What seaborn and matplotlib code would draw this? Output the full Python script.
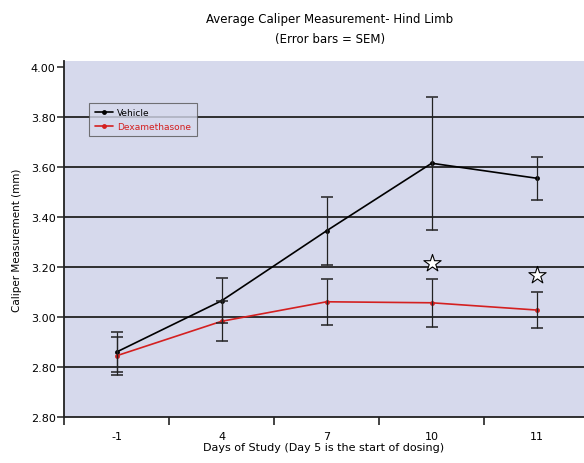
import numpy as np
import pandas as pd
import seaborn as sns
import matplotlib.pyplot as plt

sns.set_style("white")
plt.rcParams['font.family'] = ['DejaVu Sans']
plt.rcParams['text.color'] = 'black'
plt.rcParams['axes.labelcolor'] = 'black'
plt.rcParams['xtick.color'] = 'black'
plt.rcParams['ytick.color'] = 'black'

# data
days = ['-1', '4', '7', '10', '11']
vehicle = [2.86, 3.065, 3.345, 3.615, 3.555]
vehicle_sem = [0.08, 0.09, 0.137, 0.265, 0.085]
dexa = [2.845, 2.983, 3.061, 3.057, 3.028]
dexa_sem = [0.077, 0.08, 0.091, 0.097, 0.073]
star_days = ['10', '11']
star_vals = [3.215, 3.17]
y_ticks = [2.6, 2.8, 3.0, 3.2, 3.4, 3.6, 3.8, 4.0]
y_labels = ['2.80', '2.80', '3.00', '3.20', '3.40', '3.60', '3.80', '4.00']

pos = np.arange(len(days))
df = pd.DataFrame({
    'pos': np.concatenate([pos, pos]),
    'value': vehicle + dexa,
    'group': ['Vehicle'] * len(days) + ['Dexamethasone'] * len(days),
})
palette = {'Vehicle': 'black', 'Dexamethasone': '#d42020'}

fig = plt.figure(figsize=(5.84, 4.64), dpi=100)
ax = fig.add_axes([0.1096, 0.099, 0.8904, 0.768])
ax.set_facecolor('#d6d9ec')

# grid lines
for yv in y_ticks[1:-1]:
    ax.axhline(yv, color='#222222', lw=1.3, zorder=1)

sns.lineplot(data=df, x='pos', y='value', hue='group', palette=palette,
             marker='o', markersize=3.5, markeredgewidth=0, lw=1.2,
             ax=ax, zorder=3)

ax.errorbar(pos, vehicle, yerr=vehicle_sem, fmt='none', ecolor='#222222',
            elinewidth=0.9, capsize=4, capthick=1.1, zorder=4)
ax.errorbar(pos, dexa, yerr=dexa_sem, fmt='none', ecolor='#222222',
            elinewidth=0.9, capsize=4, capthick=1.1, zorder=4)

star_pos = [days.index(d) for d in star_days]
ax.scatter(star_pos, star_vals, marker='*', s=170, facecolor='white',
           edgecolor='black', linewidth=0.8, zorder=5)

ax.set_xlim(-0.5, 4.45)
ax.set_ylim(2.6, 4.025)
ax.set_yticks(y_ticks)
ax.set_yticklabels(y_labels, fontsize=8)
ax.set_xticks(np.arange(-0.5, 4.5, 1.0))
ax.set_xticklabels([])
ax.set_xticks(pos, minor=True)
ax.set_xticklabels(days, minor=True, fontsize=8)
ax.tick_params(axis='x', which='major', direction='out', length=6, width=1.2,
               color='#222222', bottom=True)
ax.tick_params(axis='x', which='minor', length=0, pad=10)
ax.tick_params(axis='y', direction='out', length=5, width=1.1,
               color='#222222', left=True, pad=1)

for side in ['top', 'right']:
    ax.spines[side].set_visible(False)
for side in ['left', 'bottom']:
    ax.spines[side].set_color('#222222')
    ax.spines[side].set_linewidth(1.3)

ax.set_xlabel('Days of Study (Day 5 is the start of dosing)', fontsize=8, labelpad=1)
ax.set_ylabel('Caliper Measurement (mm)', fontsize=7.5, labelpad=6)

fig.text(0.565, 0.958, 'Average Caliper Measurement- Hind Limb',
         ha='center', va='center', fontsize=8.5)
fig.text(0.565, 0.914, '(Error bars = SEM)', ha='center', va='center', fontsize=8.5)

leg = ax.legend(loc='upper left', bbox_to_anchor=(0.04, 0.895), fontsize=6.5,
                frameon=True, fancybox=False, handlelength=2.0,
                borderpad=0.6, labelspacing=0.55, handletextpad=0.5, title=None)
leg.get_frame().set_edgecolor('#555555')
leg.get_frame().set_facecolor('#d6d9ec')
leg.get_frame().set_linewidth(0.8)
leg.set_zorder(6)
for t, c in zip(leg.get_texts(), ['black', '#d42020']):
    t.set_color(c)

fig.savefig('out.png', dpi=100)
